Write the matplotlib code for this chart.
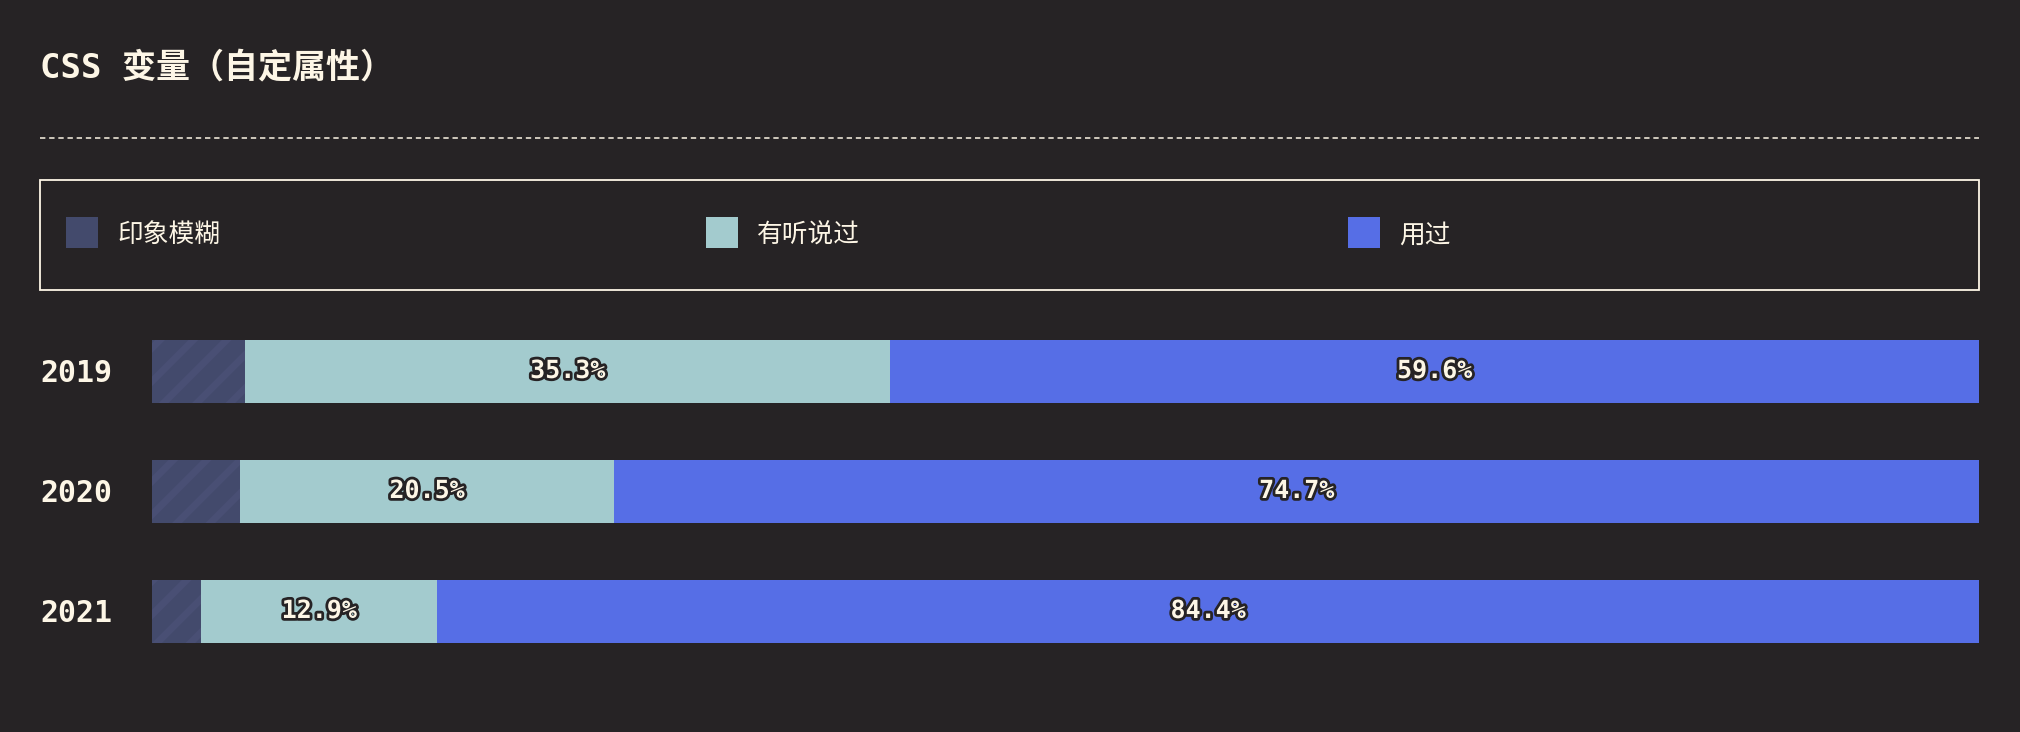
#!/usr/bin/env python3
"""CSS 变量（自定属性） awareness by year, stacked horizontal bars."""

import matplotlib
matplotlib.use("Agg")
import matplotlib.pyplot as plt
import matplotlib.patheffects as pe
from matplotlib.patches import Rectangle
from matplotlib.lines import Line2D
from matplotlib.transforms import blended_transform_factory

# ---------------------------------------------------------------------------
YEARS   = ["2019", "2020", "2021"]
VAGUE   = [5.1, 4.8, 2.7]      # 印象模糊
HEARD   = [35.3, 20.5, 12.9]   # 有听说过
USED    = [59.6, 74.7, 84.4]   # 用过
SERIES  = ["印象模糊", "有听说过", "用过"]
TITLE   = "CSS 变量（自定属性）"

BG      = "#262325"
CREAM   = "#fdf6e6"
C_VAGUE = "#434a6c"
C_HATCH = "#494f74"
C_HEARD = "#a3cbce"
C_USED  = "#566ee6"

MONO = ["DejaVu Sans Mono", "Noto Sans CJK SC"]
CJK  = ["Noto Sans CJK SC", "DejaVu Sans"]

W, H = 2020, 732
plt.rcParams["hatch.linewidth"] = 5.0

# ---------------------------------------------------------------------------

def fx(px):
    return px / W

def fy(px):
    return 1 - px / H


def main():
    fig = plt.figure(figsize=(W / 100, H / 100), dpi=100, facecolor=BG)

    # title + dashed rule
    fig.text(fx(40), fy(68), TITLE, family=MONO, fontsize=24.5,
             fontweight="bold", color=CREAM, va="center", ha="left")
    fig.add_artist(Line2D([fx(40), fx(1979)], [fy(138), fy(138)],
                          transform=fig.transFigure, color=CREAM, lw=1.1,
                          dashes=(3.5, 2.5)))

    # legend box
    fig.add_artist(Rectangle((fx(40), fy(290)), fx(1939), 110 / H,
                             transform=fig.transFigure, fill=False,
                             edgecolor=CREAM, lw=1.3))
    colors = [C_VAGUE, C_HEARD, C_USED]
    legend_x = [66, 706, 1348]
    for name, col, x0 in zip(SERIES, colors, legend_x):
        fig.add_artist(Rectangle((fx(x0), fy(248)), fx(32), 31 / H,
                                 transform=fig.transFigure,
                                 facecolor=col, edgecolor="none"))
        fig.text(fx(x0 + 51), fy(236), name, family=CJK, fontsize=18.5,
                 color=CREAM, va="center", ha="left")

    # bars
    ax = fig.add_axes([fx(152), (H - 671) / H, fx(1827), 360 / H])
    ax.set_facecolor(BG)
    y = list(range(len(YEARS)))
    h = 0.525
    ax.barh(y, VAGUE, height=h, color=C_VAGUE, edgecolor=C_HATCH,
            linewidth=0, hatch="/")
    ax.barh(y, HEARD, height=h, left=VAGUE, color=C_HEARD, linewidth=0)
    left_used = [a + b for a, b in zip(VAGUE, HEARD)]
    ax.barh(y, USED, height=h, left=left_used, color=C_USED, linewidth=0)

    ax.set_xlim(0, 100)
    ax.set_ylim(len(YEARS) - 0.5, -0.5)
    ax.axis("off")

    stroke = [pe.withStroke(linewidth=4, foreground=BG)]
    for i in y:
        for left, val in ((VAGUE[i], HEARD[i]), (left_used[i], USED[i])):
            ax.text(left + val / 2, i, f"{val:.1f}%", family=MONO,
                    fontsize=18, fontweight="bold", color=CREAM,
                    ha="center", va="center", path_effects=stroke)

    trans = blended_transform_factory(fig.transFigure, ax.transData)
    for i, yr in enumerate(YEARS):
        ax.text(fx(40), i + 0.02, yr, transform=trans, family=MONO,
                fontsize=21.5, fontweight="bold", color=CREAM, ha="left",
                va="center", clip_on=False)

    fig.savefig("out.png", dpi=100, facecolor=BG)
    plt.close(fig)


if __name__ == "__main__":
    main()
